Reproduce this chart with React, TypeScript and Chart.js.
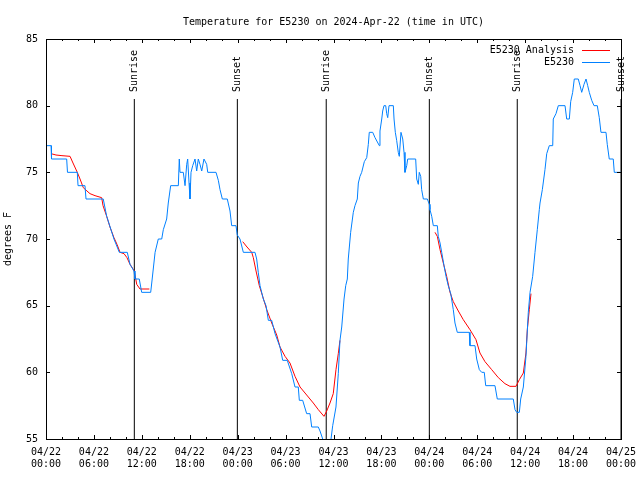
import React, { useEffect, useRef } from 'react';
import { Chart, registerables } from 'chart.js';

Chart.register(...registerables);

const FONT = '"DejaVu Sans Mono", "Liberation Mono", monospace';

const chartTitle = 'Temperature for E5230 on 2024-Apr-22 (time in UTC)';
const yTitle = 'degrees F';

// hours since 2024-04-22 00:00 UTC
const stationHours = [
  0.00, 0.63, 0.69, 2.59, 2.69, 3.92, 4.01, 4.88, 5.01, 7.17,
  7.60, 8.51, 9.18, 10.18, 10.52, 11.02, 11.14, 11.68, 11.98, 13.11,
  13.24, 13.66, 14.06, 14.49, 14.69, 15.11, 15.31, 15.61, 16.57, 16.69,
  16.78, 17.19, 17.41, 17.62, 17.74, 17.91, 18.03, 18.16, 18.37, 18.66,
  18.87, 19.07, 19.28, 19.50, 19.78, 20.12, 20.25, 21.29, 21.58, 21.79,
  22.08, 22.70, 23.04, 23.25, 23.79, 23.95, 24.29, 24.71, 26.17, 26.38,
  26.58, 26.80, 27.21, 27.55, 27.84, 28.26, 28.68, 29.30, 29.64, 30.21,
  30.77, 31.18, 31.59, 31.72, 32.14, 32.64, 33.06, 33.27, 34.10, 34.31,
  34.65, 34.94, 35.56, 35.69, 35.90, 36.31, 36.60, 36.81, 37.03, 37.32,
  37.53, 37.73, 37.85, 38.15, 38.48, 38.69, 38.98, 39.11, 39.32, 39.53,
  39.86, 40.16, 40.36, 40.48, 40.91, 41.20, 41.74, 41.82, 42.04, 42.16,
  42.32, 42.54, 42.66, 42.79, 42.95, 43.49, 43.58, 43.74, 43.91, 44.11,
  44.24, 44.45, 44.67, 44.83, 44.95, 45.17, 45.29, 46.29, 46.42, 46.62,
  46.74, 46.92, 47.04, 47.25, 47.75, 48.00, 48.08, 48.30, 48.50, 49.00,
  49.12, 49.34, 49.55, 49.84, 50.09, 50.37, 50.68, 51.00, 51.21, 51.50,
  53.00, 53.09, 53.72, 53.93, 54.26, 54.56, 54.88, 55.06, 56.22, 56.51,
  58.51, 58.73, 58.94, 59.27, 59.44, 59.77, 60.10, 60.39, 60.61, 60.94,
  61.23, 61.52, 61.77, 61.86, 62.15, 62.48, 62.70, 63.02, 63.45, 63.52,
  63.86, 64.15, 64.99, 65.20, 65.53, 65.70, 65.95, 66.15, 66.65, 66.87,
  67.08, 67.37, 67.62, 67.83, 68.03, 68.33, 68.62, 69.03, 69.28, 69.49,
  70.12, 70.28, 70.53, 71.03, 71.16, 72.00,
];
const stationTemps = [
  77, 77, 76, 76, 75, 75, 74, 74, 73, 73,
  71.7, 70, 69, 69, 68.1, 67.6, 67, 67, 66, 66,
  66.7, 69, 70, 70, 70.7, 71.5, 72.7, 74, 74, 76,
  75, 75, 74, 75.6, 76, 74.2, 73, 75, 75.5, 76,
  75.1, 76, 75.6, 75.1, 76, 75.6, 75, 75, 74.4, 73.7,
  73, 73, 72.1, 71, 71, 70.3, 70, 69, 69, 68.5,
  67.5, 66.5, 65.5, 65, 63.9, 63.9, 62.9, 61.9, 60.9, 60.9,
  59.9, 58.9, 58.9, 57.9, 57.9, 56.9, 56.9, 55.9, 55.9, 55.6,
  55, 54, 54, 55, 56, 57.4, 59.9, 62.4, 63.4, 65.5,
  66.5, 67, 68.5, 70.5, 72, 72.5, 73, 74.2, 74.7, 75,
  75.8, 76.1, 77.1, 78, 78, 77.6, 77, 78.1, 79, 79.6,
  80, 80, 79.4, 79.1, 80, 80, 79, 78, 77.4, 76.5,
  76.2, 78, 77.5, 76.5, 75, 75.5, 76, 76, 74.5, 74.1,
  75, 74.7, 73.7, 73, 73, 72.6, 72.2, 71.7, 71, 71,
  70.2, 69.7, 69, 68, 67.2, 66.5, 65.9, 64.7, 63.7, 63,
  63, 62, 62, 61, 60.2, 60, 60, 59, 59, 58,
  58, 57.2, 57, 57, 58, 58.9, 61.2, 64.5, 66, 67.2,
  69, 70.7, 72.2, 72.7, 73.7, 75.2, 76.4, 77, 77, 79,
  79.4, 80, 80, 79, 79, 80.3, 81, 82, 82, 81.5,
  81, 81.6, 82, 81.5, 81, 80.4, 80, 80, 79.1, 78,
  78, 77.1, 76, 76, 75, 75,
];

// null temperature = gap between analysis runs
const analysisHours = [
  0.63, 1.25, 2.00, 3.01, 3.38, 3.92, 4.26, 4.67, 5.13, 5.51,
  6.14, 6.97, 7.14, 7.60, 8.01, 8.51, 8.89, 9.27, 9.77, 10.14,
  10.52, 11.06, 11.36, 11.77, 12.94, 18.00,
  24.63, 25.17, 25.76, 25.96, 26.30, 26.71, 27.13, 27.64, 28.26, 28.89,
  29.30, 29.93, 30.55, 31.18, 31.81, 32.64, 33.47, 34.10, 34.81, 35.15,
  35.56, 35.97, 36.31, 36.60, 36.81, 42.00,
  48.71, 49.00, 49.34, 49.75, 50.17, 50.59, 51.00, 51.63, 52.25, 53.09,
  53.84, 54.34, 54.97, 55.81, 56.64, 57.47, 58.10, 58.85, 59.27, 59.77,
  60.10, 60.27, 60.52, 60.73,
];
const analysisTemps = [
  76.4, 76.3, 76.25, 76.2, 75.7, 75, 74.5, 73.85, 73.6, 73.4,
  73.25, 73.1, 72.5, 71.7, 70.9, 70.1, 69.6, 69, 68.9, 68.6,
  68.1, 67.6, 66.6, 66.25, 66.25, null,
  69.8, 69.4, 69, 68.6, 67.6, 66.5, 65.7, 64.7, 63.7, 62.8,
  61.9, 61.2, 60.7, 59.7, 58.9, 58.3, 57.7, 57.2, 56.7, 57.1,
  57.7, 58.4, 60.2, 61.4, 62.4, null,
  70.5, 70.2, 69.2, 68.2, 67.2, 66, 65.3, 64.6, 63.95, 63.2,
  62.45, 61.45, 60.8, 60.2, 59.6, 59.15, 58.95, 58.95, 59.45, 59.95,
  61.45, 63.2, 64.7, 65.9,
];

const sunHours = [11.06, 23.96, 35.09, 48.0, 59.01, 72.0];
const sunEvents = ['Sunrise', 'Sunset', 'Sunrise', 'Sunset', 'Sunrise', 'Sunset'];
const sunLineTop = 80.5;

const tickDates = ['04/22', '04/22', '04/22', '04/22', '04/23', '04/23', '04/23', '04/23', '04/24', '04/24', '04/24', '04/24', '04/25'];
const tickTimes = ['00:00', '06:00', '12:00', '18:00', '00:00', '06:00', '12:00', '18:00', '00:00', '06:00', '12:00', '18:00', '00:00'];
const yTicks = [55, 60, 65, 70, 75, 80, 85];

const seriesNames = ['E5230 Analysis', 'E5230'];
const seriesColors = ['#ff0000', '#0080ff'];

const frameTicksPlugin = {
  id: 'frameTicks',
  afterDatasetsDraw(chart: any) {
    const { ctx, chartArea: a, scales } = chart;
    const x = scales.x;
    const y = scales.y;
    ctx.save();
    ctx.strokeStyle = '#000';
    ctx.lineWidth = 1;
    ctx.beginPath();
    for (let h = x.min; h <= x.max + 0.001; h += 2) {
      const px = Math.round(x.getPixelForValue(h)) + 0.5;
      const len = Math.round(h) % 6 === 0 ? 4 : 2;
      ctx.moveTo(px, a.bottom);
      ctx.lineTo(px, a.bottom - len);
      ctx.moveTo(px, a.top);
      ctx.lineTo(px, a.top + len);
    }
    for (const v of yTicks) {
      const py = Math.round(y.getPixelForValue(v)) + 0.5;
      ctx.moveTo(a.left, py);
      ctx.lineTo(a.left + 4, py);
      ctx.moveTo(a.right, py);
      ctx.lineTo(a.right - 4, py);
    }
    ctx.stroke();
    ctx.strokeRect(
      Math.round(a.left) + 0.5,
      Math.round(a.top) + 0.5,
      Math.round(a.right - a.left),
      Math.round(a.bottom - a.top)
    );
    ctx.restore();
  },
};

const labelsPlugin = {
  id: 'gnuLabels',
  afterDraw(chart: any) {
    const { ctx, chartArea: a, scales } = chart;
    const x = scales.x;
    const y = scales.y;
    ctx.save();
    ctx.font = `10px ${FONT}`;
    ctx.fillStyle = '#000';
    // title, centred over the plot area
    ctx.textAlign = 'center';
    ctx.textBaseline = 'middle';
    ctx.fillText(chartTitle, (a.left + a.right) / 2, a.top - 17);
    // sun event labels
    sunHours.forEach((h, i) => {
      const px = x.getPixelForValue(h);
      const py = y.getPixelForValue(sunLineTop) - 7;
      ctx.save();
      ctx.translate(px + 0.5, py);
      ctx.rotate(-Math.PI / 2);
      ctx.textAlign = 'left';
      ctx.textBaseline = 'middle';
      ctx.fillText(sunEvents[i], 0, 0);
      ctx.restore();
    });
    // legend
    seriesNames.forEach((name, i) => {
      const ly = Math.round(a.top + 11 + i * 12) + 0.5;
      ctx.textAlign = 'right';
      ctx.textBaseline = 'middle';
      ctx.fillStyle = '#000';
      ctx.fillText(name, a.right - 47, ly);
      ctx.strokeStyle = seriesColors[i];
      ctx.lineWidth = 1;
      ctx.beginPath();
      ctx.moveTo(a.right - 39, ly);
      ctx.lineTo(a.right - 11, ly);
      ctx.stroke();
    });
    ctx.restore();
  },
};

export default function App() {
  const canvasRef = useRef<HTMLCanvasElement | null>(null);

  useEffect(() => {
    const canvas = canvasRef.current;
    if (!canvas) return;

    const stationData = stationHours.map((h, i) => ({ x: h, y: stationTemps[i] }));
    const analysisData = analysisHours.map((h, i) => ({ x: h, y: analysisTemps[i] }));
    const sunDatasets = sunHours.map((h) => ({
      label: 'sun',
      data: [
        { x: h, y: 55 },
        { x: h, y: sunLineTop },
      ],
      borderColor: '#000',
      borderWidth: 1,
      pointRadius: 0,
      tension: 0,
    }));

    const chart = new Chart(canvas, {
      type: 'line',
      data: {
        datasets: [
          {
            label: seriesNames[1],
            data: stationData,
            borderColor: seriesColors[1],
            borderWidth: 1,
            pointRadius: 0,
            tension: 0,
          },
          {
            label: seriesNames[0],
            data: analysisData,
            borderColor: seriesColors[0],
            borderWidth: 1,
            pointRadius: 0,
            tension: 0,
            spanGaps: false,
          },
          ...sunDatasets,
        ] as any,
      },
      options: {
        animation: false,
        responsive: false,
        devicePixelRatio: 1,
        layout: { padding: { top: 39, left: 0, right: 19, bottom: 0 } },
        plugins: {
          legend: { display: false },
          tooltip: { enabled: false },
          title: { display: false },
        },
        scales: {
          x: {
            type: 'linear',
            min: 0,
            max: 72,
            grid: { display: false, drawTicks: false },
            border: { display: false },
            ticks: {
              stepSize: 6,
              autoSkip: false,
              maxRotation: 0,
              minRotation: 0,
              padding: 8,
              color: '#000',
              font: { family: FONT, size: 10, lineHeight: 1.15 },
              callback: (v: any) => {
                const idx = Math.round(Number(v) / 6);
                return [tickDates[idx], tickTimes[idx]];
              },
            },
            afterFit: (s: any) => {
              s.height = 41;
              s.paddingLeft = 0;
              s.paddingRight = 0;
            },
          },
          y: {
            type: 'linear',
            min: 55,
            max: 85,
            grid: { display: false, drawTicks: false },
            border: { display: false },
            ticks: {
              stepSize: 5,
              padding: 8,
              color: '#000',
              font: { family: FONT, size: 10 },
            },
            title: {
              display: true,
              text: yTitle,
              color: '#000',
              font: { family: FONT, size: 10, lineHeight: 1.2 },
              padding: { top: 2, bottom: 0 },
            },
            afterFit: (s: any) => {
              s.width = 46;
              s.paddingTop = 0;
              s.paddingBottom = 0;
            },
          },
        },
      },
      plugins: [frameTicksPlugin, labelsPlugin],
    });

    return () => {
      chart.destroy();
    };
  }, []);

  return (
    <div style={{ position: 'absolute', left: 0, top: 0, width: 640, height: 480 }}>
      <canvas ref={canvasRef} width={640} height={480} />
    </div>
  );
}
